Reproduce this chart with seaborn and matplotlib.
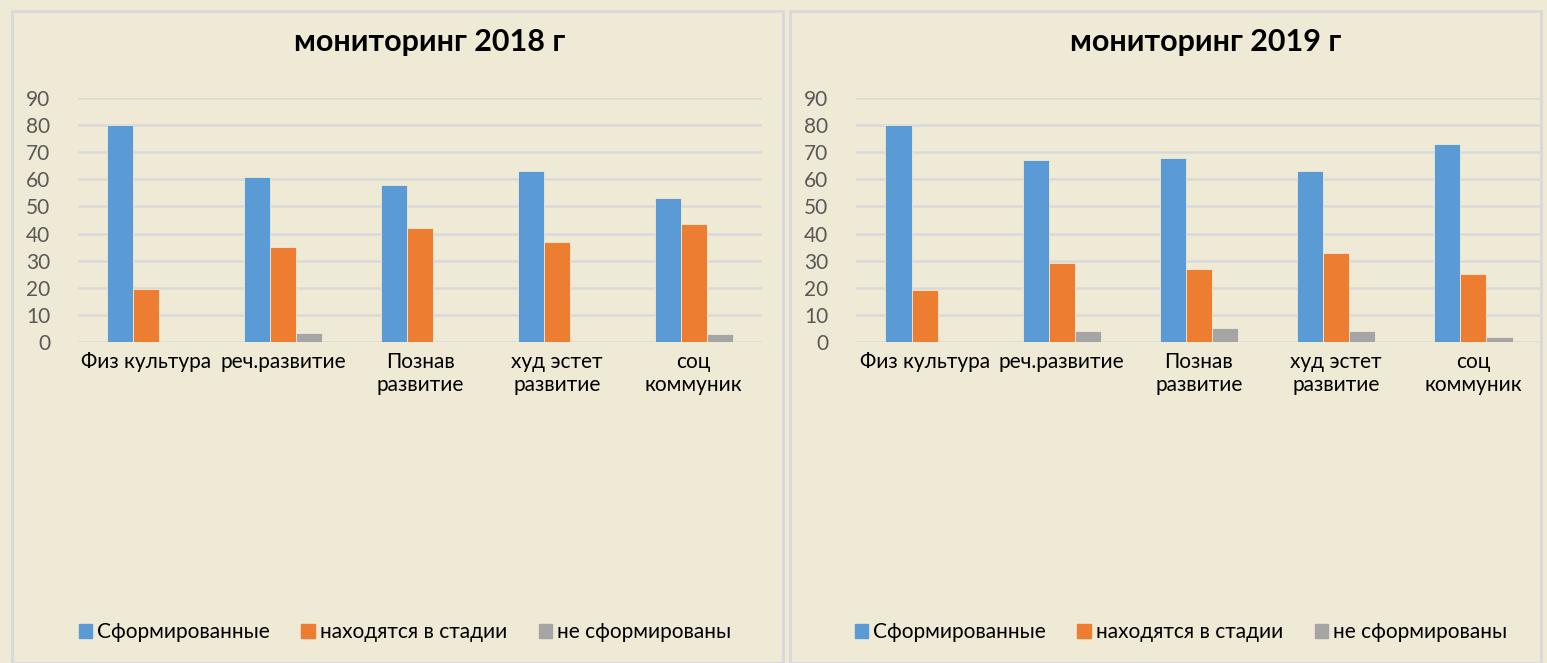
import pandas as pd
import matplotlib.pyplot as plt
import matplotlib.patches as mpatches
import seaborn as sns

# Data
categories = ["Физ культура", "реч.развитие", "Познав\nразвитие", "худ эстет\nразвитие", "соц\nкоммуник"]
statuses = ["Сформированные", "находятся в стадии", "не сформированы"]

formed_2018 = [80, 61, 58, 63, 53]
in_stage_2018 = [19.5, 35, 42, 37, 43.5]
not_formed_2018 = [0, 3.5, 0, 0, 3]

formed_2019 = [80, 67, 68, 63, 73]
in_stage_2019 = [19, 29, 27, 33, 25]
not_formed_2019 = [0, 4, 5, 4, 2]

titles = ["мониторинг 2018 г", "мониторинг 2019 г"]
colors = ["#5B9BD5", "#ED7D31", "#A5A5A5"]
BG = "#EEEAD5"
GRID = "#D9D9D9"

sns.set_style("white")
plt.rcParams['font.family'] = ['Lato', 'DejaVu Sans']


def long_frame(*series):
    rows = []
    for status, vals in zip(statuses, series):
        for cat, v in zip(categories, vals):
            rows.append({"cat": cat, "status": status, "value": v})
    return pd.DataFrame(rows)


df18 = long_frame(formed_2018, in_stage_2018, not_formed_2018)
df19 = long_frame(formed_2019, in_stage_2019, not_formed_2019)

W, H = 1547, 663
fig = plt.figure(figsize=(W / 100, H / 100), dpi=100)
fig.patch.set_facecolor(BG)

# panel borders
for x0, x1 in [(12, 783), (790, 1541)]:
    fig.patches.append(mpatches.Rectangle((x0 / W, 0), (x1 - x0) / W, (H - 11) / H,
                                          transform=fig.transFigure, fill=False,
                                          edgecolor=GRID, linewidth=2))

panels = [
    (df18, 78, 762, titles[0], 430, 405),
    (df19, 856, 1542, titles[1], 1206, 1181),
]

for data, x0, x1, title, tx, lx in panels:
    ax = fig.add_axes([x0 / W, (H - 342) / H, (x1 - x0) / W, 244 / H])
    ax.set_facecolor(BG)
    sns.barplot(data=data, x="cat", y="value", hue="status", hue_order=statuses,
                palette=colors, width=0.57, ax=ax, legend=False, saturation=1,
                edgecolor=BG, linewidth=0.6)
    ax.set_ylim(0, 90)
    ax.set_yticks(range(0, 91, 10))
    ax.yaxis.grid(True, color=GRID, linewidth=1.8)
    ax.set_axisbelow(True)
    for s in ax.spines.values():
        s.set_visible(False)
    ax.set_xlabel("")
    ax.set_ylabel("")
    ax.tick_params(axis="y", length=0, labelsize=15, labelcolor="#595959", pad=20)
    ax.tick_params(axis="x", length=0, labelsize=15, labelcolor="black", pad=7)
    fig.text(tx / W, (H - 42) / H, title, ha="center", va="center",
             fontsize=22, fontweight="bold", color="black")
    handles = [mpatches.Patch(color=c, label=s) for c, s in zip(colors, statuses)]
    fig.legend(handles=handles, loc="center", bbox_to_anchor=(lx / W, (H - 632) / H),
               ncol=3, frameon=False, fontsize=15, handlelength=0.65, handleheight=0.65,
               handletextpad=0.25, columnspacing=1.5, labelcolor="black")

fig.savefig("out.png", dpi=100, facecolor=BG)
